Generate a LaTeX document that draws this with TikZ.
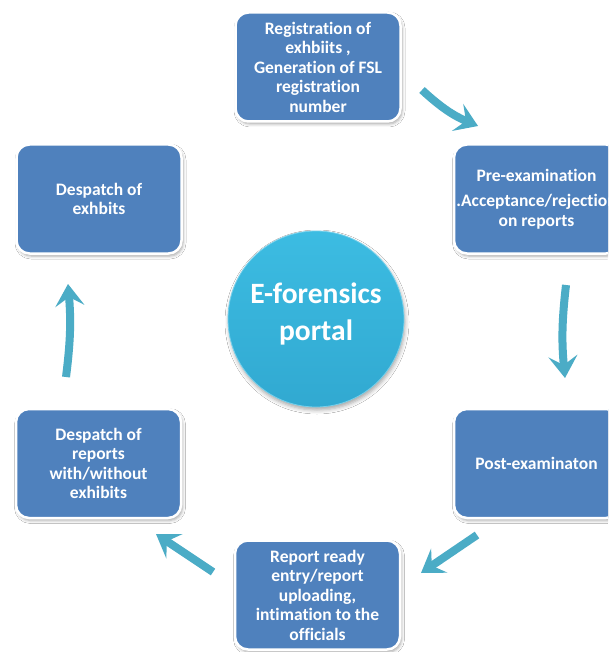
\documentclass[tikz,border=0pt]{standalone}
\usepackage{fontspec}
\setmainfont{Carlito}[RawFeature={-liga;-clig;-calt;-dlig}]
\usetikzlibrary{arrows.meta,shadows.blur}
\definecolor{boxblue}{HTML}{4F81BD}
\definecolor{flowteal}{HTML}{4BACC6}
\definecolor{hubtop}{HTML}{3CBCE2}
\definecolor{hubbottom}{HTML}{31A9D1}
\begin{document}
\begin{tikzpicture}[x=1pt,y=-1pt,
  stagebox/.style={draw=white, line width=2.5pt, fill=boxblue,
    rounded corners=13pt, minimum width=165pt, minimum height=109pt,
    text=white, align=center, inner sep=2pt,
    font=\bfseries\fontsize{17.5}{19.5}\selectfont,
    blur shadow={shadow xshift=1.5pt, shadow yshift=-2.5pt,
      shadow blur radius=3pt, shadow opacity=35}},
  hub/.style={circle, minimum size=176pt, top color=hubtop,
    bottom color=hubbottom, draw=hubtop!70!white, line width=0.8pt,
    blur shadow={shadow xshift=1pt, shadow yshift=-3pt,
      shadow blur radius=4pt, shadow opacity=35}},
  flow/.style={draw=flowteal, line width=8pt,
    -{Stealth[length=22pt, width=29pt, inset=9pt]}}]

\useasboundingbox (0,0) rectangle (608,652);
\fill[white] (0,0) rectangle (608,652);
\clip (0,0) rectangle (608,652);

% process stages around the hub
\node[stagebox] (reg)    at (318,67)    {Registration of\\exhbiits ,\\Generation of FSL\\registration\\number};
\node[stagebox] (pre)    at (536.5,199) {Pre-examination\\[6pt].Acceptance/rejection\\on reports};
\node[stagebox] (post)   at (536.5,463.5) {Post-examinaton};
\node[stagebox] (report) at (317.5,595) {Report ready\\entry/report\\uploading,\\intimation to the\\officials};
\node[stagebox] (desrep) at (98.5,463.5) {Despatch of\\reports\\with/without\\exhibits};
\node[stagebox] (desexh) at (99,199)    {Despatch of\\exhbits};

% central hub and its title
\node[hub] (portal) at (316,319) {};
\node[text=white, align=center, font=\bfseries\fontsize{29.5}{37}\selectfont]
  (title) at ([yshift=5pt]portal.center) {E-forensics\\portal};

% arrow end points between the stages
\coordinate (f1a) at (422,90);  \coordinate (f1b) at (478,126);
\coordinate (f2a) at (566,285); \coordinate (f2b) at (565,378);
\coordinate (f3a) at (477,535); \coordinate (f3b) at (421,573);
\coordinate (f4a) at (213,572); \coordinate (f4b) at (156,534);
\coordinate (f5a) at (66,377);  \coordinate (f5b) at (68,284);

\draw[flow] (f1a) to[bend right=10] (f1b);
\draw[flow] (f2a) to[bend right=6] (f2b);
\draw[flow] (f3a) -- (f3b);
\draw[flow] (f4a) -- (f4b);
\draw[flow] (f5a) to[bend right=6] (f5b);
\end{tikzpicture}
\end{document}
